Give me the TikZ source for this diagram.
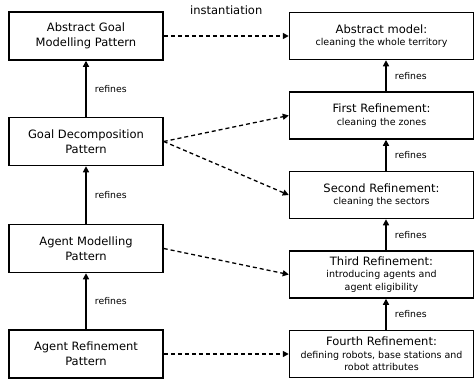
\documentclass[tikz,border=0pt]{standalone}
\usepackage{fontspec}
\setmainfont{DejaVu Sans}
\usetikzlibrary{arrows.meta,positioning,calc}
\newcommand{\subfont}{\fontsize{9.5}{11.5}\selectfont}

\begin{document}
\begin{tikzpicture}[
  x=1pt, y=-1pt,
  >={Triangle[length=6pt,width=6pt]},
  every node/.style={font=\fontsize{11.5}{15}\selectfont},
  patternbox/.style={
    rectangle, draw=black, line width=1.5pt,
    minimum width=154pt, minimum height=48pt,
    inner sep=2pt, align=center
  },
  modelbox/.style={
    rectangle, draw=black, line width=1.5pt,
    minimum width=184pt, minimum height=47pt,
    inner sep=2pt, align=center, font=\fontsize{11.5}{12.5}\selectfont
  },
  refinearrow/.style={->, line width=1.3pt},
  instarrow/.style={->, line width=1.3pt, dash pattern=on 4pt off 3pt},
  arrowlabel/.style={font=\fontsize{9.3}{11}\selectfont, anchor=west, xshift=5pt}
]
\useasboundingbox (0,0) rectangle (475,380);

% Left column - patterns
\node[patternbox] (goalpat) at (86, 36) {Abstract Goal\\Modelling Pattern};
\node[patternbox] (decomppat) at (86, 141.5) {Goal Decomposition\\Pattern};
\node[patternbox] (agentpat) at (86, 248.5) {Agent Modelling\\Pattern};
\node[patternbox] (agentref) at (86, 354) {Agent Refinement\\Pattern};

% Right column - model refinements
\node[modelbox] (absmodel) at (381.5, 36) {Abstract model:\\\subfont cleaning the whole territory};
\node[modelbox] (firstref) at (381.5, 115.5) {First Refinement:\\\subfont cleaning the zones};
\node[modelbox] (secondref) at (381.5, 195) {Second Refinement:\\\subfont cleaning the sectors};
\node[modelbox] (thirdref) at (381.5, 274.5) {Third Refinement:\\\subfont introducing agents and\\\subfont agent eligibility};
\node[modelbox] (fourthref) at (381.5, 354) {Fourth Refinement:\\\subfont defining robots, base stations and\\\subfont robot attributes};

% Refinement arrows (left column)
\draw[refinearrow] (decomppat) -- (goalpat) node[midway, arrowlabel]{refines};
\draw[refinearrow] (agentpat) -- (decomppat) node[midway, arrowlabel]{refines};
\draw[refinearrow] (agentref) -- (agentpat) node[midway, arrowlabel]{refines};

% Refinement arrows (right column)
\draw[refinearrow] ([xshift=4.5pt]firstref.north) -- ([xshift=4.5pt]absmodel.south) node[midway, arrowlabel]{refines};
\draw[refinearrow] ([xshift=4.5pt]secondref.north) -- ([xshift=4.5pt]firstref.south) node[midway, arrowlabel]{refines};
\draw[refinearrow] ([xshift=4.5pt]thirdref.north) -- ([xshift=4.5pt]secondref.south) node[midway, arrowlabel]{refines};
\draw[refinearrow] ([xshift=4.5pt]fourthref.north) -- ([xshift=4.5pt]thirdref.south) node[midway, arrowlabel]{refines};

% Instantiation arrows (patterns to models)
\draw[instarrow] (goalpat.east) -- (absmodel.west)
  node[midway, above=17pt, font=\fontsize{11.5}{13}\selectfont]{instantiation};
\draw[instarrow] (decomppat.east) -- (firstref.west);
\draw[instarrow] (decomppat.east) -- (secondref.west);
\draw[instarrow] (agentpat.east) -- (thirdref.west);
\draw[instarrow] (agentref.east) -- (fourthref.west);

\end{tikzpicture}
\end{document}
